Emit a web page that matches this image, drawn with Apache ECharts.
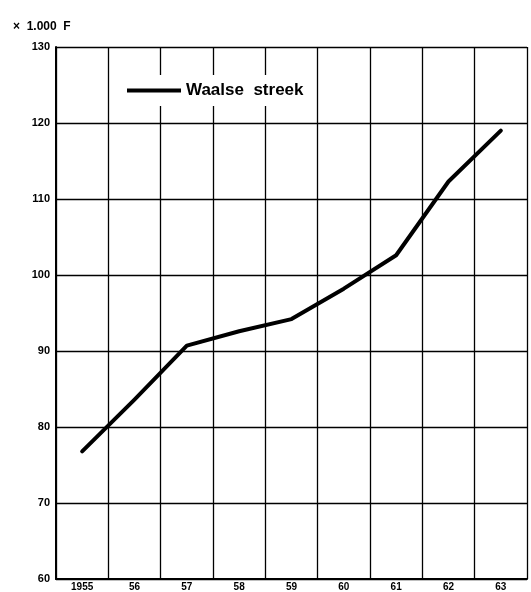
<!DOCTYPE html>
<html>
<head>
<meta charset="utf-8">
<script src="https://cdn.jsdelivr.net/npm/echarts@6/dist/echarts.min.js"></script>
<style>
  html, body { margin: 0; padding: 0; background: #fff; }
  #chart { width: 531px; height: 592px; }
</style>
</head>
<body>
<div id="chart"></div>
<script>
// jaren (as-labels) en waarden in 1.000 F
var years = ['1955', '56', '57', '58', '59', '60', '61', '62', '63'];
var waalseStreek = [76.8, 83.6, 90.7, 92.6, 94.2, 98.2, 102.6, 112.3, 119.0];

var font = 'Liberation Sans, Arial, sans-serif';

var myChart = echarts.init(document.getElementById('chart'));
myChart.setOption({
    backgroundColor: '#fff',
    animation: false,
    title: {
        text: '×  1.000  F',
        left: 8,
        top: 16,
        textStyle: { fontFamily: font, fontSize: 12, fontWeight: 'bold', color: '#000' }
    },
    legend: {
        data: ['Waalse streek'],
        formatter: function (name) {
            return name.replace(' ', '  ');
        },
        left: 119,
        top: 75,
        padding: [7, 8, 7, 8],
        backgroundColor: '#fff',
        icon: 'rect',
        itemWidth: 54,
        itemHeight: 4,
        textStyle: { fontFamily: font, fontSize: 17, fontWeight: 'bold', color: '#000' }
    },
    grid: {
        left: 56,
        right: 4,
        top: 47,
        bottom: 13
    },
    xAxis: {
        type: 'category',
        data: years,
        boundaryGap: true,
        axisLine: { lineStyle: { color: '#000', width: 2 } },
        axisTick: { show: false },
        axisLabel: {
            margin: 3,
            fontFamily: font,
            fontSize: 10,
            fontWeight: 'bold',
            color: '#000'
        },
        splitLine: { // rasterlijnen
            show: true,
            interval: 0,
            lineStyle: { color: '#000', width: 1.3 }
        }
    },
    yAxis: {
        type: 'value',
        min: 60,
        max: 130,
        interval: 10,
        axisLine: { show: true, lineStyle: { color: '#000', width: 2 } },
        axisTick: { show: false },
        axisLabel: {
            margin: 6,
            fontFamily: font,
            fontSize: 11,
            fontWeight: 'bold',
            color: '#000'
        },
        splitLine: {
            show: true,
            lineStyle: { color: '#000', width: 1.3 }
        }
    },
    series: [{
        name: 'Waalse streek',
        type: 'line',
        data: waalseStreek,
        symbol: 'none',
        z: 5,
        lineStyle: { color: '#000', width: 4, cap: 'round', join: 'round' },
        itemStyle: { color: '#000' }
    }]
});
</script>
</body>
</html>
